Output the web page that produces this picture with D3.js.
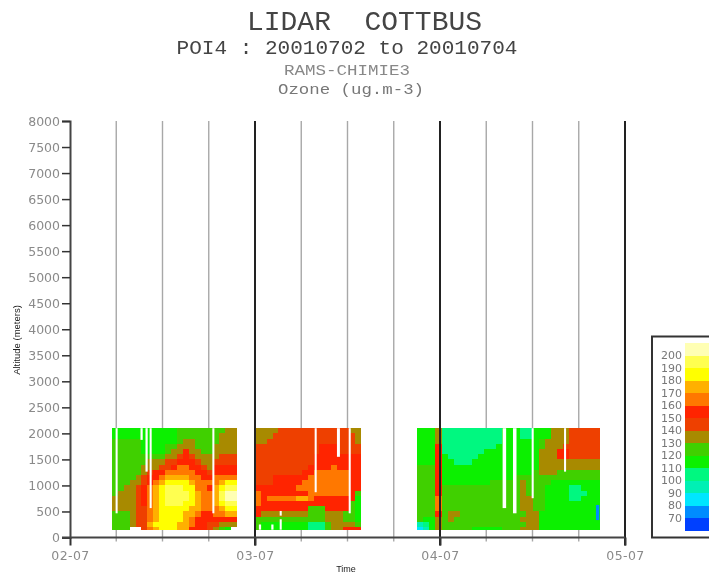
<!DOCTYPE html>
<html><head><meta charset="utf-8">
<script src="https://cdn.jsdelivr.net/npm/d3@7"></script>
<style>html,body{margin:0;padding:0;background:#fff;overflow:hidden}svg{display:block;filter:blur(0.6px)}</style>
</head><body><svg id="c" width="709" height="576"></svg>
<script>
const titleLines = ["LIDAR  COTTBUS", "POI4 : 20010702 to 20010704", "RAMS-CHIMIE3", "Ozone (ug.m-3)"];
const yTicks = d3.range(0, 8001, 500);
const dayTicks = [0, 1, 2, 3];
const dayLabels = ["02-07", "03-07", "04-07", "05-07"];
const quarterTicks = [0.25, 0.5, 0.75, 1.25, 1.5, 1.75, 2.25, 2.5, 2.75];
const legendTicks = [70, 80, 90, 100, 110, 120, 130, 140, 150, 160, 170, 180, 190, 200];
const levelColors = ["#0040ff", "#008cff", "#00e6ff", "#00f0b4", "#00f880", "#0cf000", "#40d000", "#a88a00", "#ee4000", "#ff2400", "#ff7800", "#ffb000", "#ffff00", "#ffff50", "#ffffb4"];
// letter codes a..o = ozone classes <70, 70-80, ... >200
const levelCodes = "abcdefghijklmno";
const levelValues = [65, 75, 85, 95, 105, 115, 125, 135, 145, 155, 165, 175, 185, 195, 205];
const altitudeEdges = [2100, 2000, 1900, 1800, 1700, 1600, 1500, 1400, 1300, 1200, 1100, 1000, 900, 800, 700, 600, 500, 400, 300, 200, 150];

const day1Span = [0.225, 0.903];
const day1Rows = [
"fffffffffffgggggggghh","fffffffffffggggggghhh","gggggffffffghhgggghhh","gggggffffgghhhggghhhh",
"gggggffffghhjhhgghhhh","ggggggggghhijihhhhiii","gggggghhhiijjjihhiiii","ggggghhhiijkkjjihjjjj",
"ggggghijjkkkkkjjijjjj","gggghijjkllllkkjjkkkk","ggghhijklmmmmlkkkklmm","gghhijklmnnnmmkkjlmnn",
"ghhhijklmnnnnmlkklnoo","hhhhijklmnnnnmlkklnoo","hhhhijklmnnnmmlkklmnn","hhhhiiklmmmmmllkkklmm",
"ggghiiklmmmmllkjjkkll","ggghiiklmmmmlkjjjjjjj","ggghiilmmmmllkjjiihhh","ggg..iklmmmlljjjihgf."];

const day2Span = [1.0, 1.570];
const day2Rows = [
"hhhhiiiiiiiiiiiihh","hhhiiiiiiiiiiiiiih","hhiiiiiiiiiiiiiiih","iiiiiiiiiiijjjiiii",
"iiiiiiiiiiijjjiiii","iiiiiiiiiijjjjjjjj","iiiiiiiiiijjjjjjjj","iiiiiiiiijjjjkjjjj",
"iiiiiiiijjkkkkkkjj","iiijjjjjjkkkkkkkjj","iiijjjjjkkkkkkkkjj","jjjjjjjkkkkkkkkkjj",
"kjjjjjjjjkkkkkkkjg","kjkkkkkllkjjjjjjjf","kjjjjjjjjjjjjjjjgf","jjjjjjjjjgggjjjjgf",
"jhhhhhhhhggghhhggf","gggggggggggghhhggf","gffffffffeeeghhhhg","gffffffffeeeghhjjj"];

const day3Span = [1.877, 2.861];
const day3Rows = [
"fffheeeeeeeeeefffeefffhhhiiiii","fffheeeeeeeeeefffeefffhhhiiiii","fffheeeeeeeeeeffffffghhhhiiiii","fffjeeeeeeeeefffffffghhhiiiiii",
"fffjeeeeeeefffffffffhhhjjiiiii","fffjfeeeeeffffffffffhhhjjiiiii","fffjffeeefffffffffffhhhhhhhhhh","gggjffffffffffffffffhhhhhhhhhh",
"gggjfffffffffffffffghhhggggggg","gggjffffffffffffgggggggggggggg","gggjffffffffggggghggggffffffff","gggjggggggggggggghgggffffeefff",
"gggjggggggggggggghgggffffeeeff","gggkggggggggggggghhggffffeefff","gggkggggggggggggghhggfffffffff","gggkggggggggggggghhggfffffffff",
"gggjghhggggggggggghhffffffffff","gffhghggggggggggghhhffffffffff","defhgggggggggggggghhffffffffff","cdfhgggggfffffggghhhffffffffff"];

// small isolated cells
const extraCellT0 = [2.843];
const extraCellT1 = [2.861];
const extraCellTop = [625];
const extraCellBottom = [335];
const extraCellValue = [75];

// missing-data slits: time (days), lowest altitude, top altitude, width (days)
const gapTime = [0.252, 0.387, 0.414, 0.436, 0.775, 1.328, 1.451, 1.512, 1.139, 1.139, 1.027, 1.094, 2.348, 2.404, 2.501, 2.676];
const gapLow  = [465, 1875, 1265, 565, 465, 870, 1550, 465, 420, 150, 150, 150, 565, 465, 755, 1265];
const gapHigh = [2100, 2100, 2100, 2100, 2100, 2100, 2100, 2100, 510, 350, 250, 250, 2100, 2100, 2100, 2100];
const gapWidth = [0.011, 0.012, 0.012, 0.011, 0.011, 0.011, 0.016, 0.011, 0.011, 0.011, 0.012, 0.012, 0.019, 0.019, 0.011, 0.011];

const svg = d3.select("#c");
const x = d3.scaleLinear().domain([0, 3]).range([70, 625]);
const y = d3.scaleLinear().domain([0, 8000]).range([537.5, 121]);
const color = d3.scaleThreshold().domain(legendTicks).range(levelColors);
const valueOf = c => levelValues[levelCodes.indexOf(c)];
const numFont = "'DejaVu Sans'";

// titles
const titleStyle = [[364.5, 30, 28, "#444", 235], [347, 54, 21, "#444", 341], [347, 75, 15.5, "#888", 126], [351, 94, 15.5, "#777", 146]];
svg.selectAll(".t").data(titleLines).join("text").attr("class", "t")
  .attr("x", (d, i) => titleStyle[i][0]).attr("y", (d, i) => titleStyle[i][1])
  .attr("text-anchor", "middle").attr("font-family", "'Liberation Mono'")
  .attr("font-size", (d, i) => titleStyle[i][2]).attr("fill", (d, i) => titleStyle[i][3])
  .attr("textLength", (d, i) => titleStyle[i][4]).attr("lengthAdjust", "spacingAndGlyphs")
  .style("white-space", "pre").text(d => d);

// minor vertical lines
svg.append("g").selectAll("line").data(quarterTicks).join("line")
  .attr("x1", d => x(d)).attr("x2", d => x(d)).attr("y1", y(8000)).attr("y2", y(0) + 4)
  .attr("stroke", "#a8a8a8").attr("stroke-width", 1.4);

// heat cells
function drawDay(rows, span) {
  const n = rows[0].length;
  const cx = d3.scaleLinear().domain([0, n]).range(span);
  const g = svg.append("g").attr("shape-rendering", "crispEdges");
  rows.forEach((row, r) => {
    g.selectAll(null).data(row.split("").map((c, i) => ({c, i})).filter(d => d.c !== "."))
      .join("rect")
      .attr("x", d => x(cx(d.i))).attr("width", d => x(cx(d.i + 1)) - x(cx(d.i)) + 0.3)
      .attr("y", y(altitudeEdges[r])).attr("height", y(altitudeEdges[r + 1]) - y(altitudeEdges[r]) + 0.3)
      .attr("fill", d => color(valueOf(d.c)));
  });
}
drawDay(day1Rows, day1Span);
drawDay(day2Rows, day2Span);
drawDay(day3Rows, day3Span);

svg.append("g").selectAll("rect").data(extraCellT0).join("rect")
  .attr("x", d => x(d)).attr("width", (d, i) => x(extraCellT1[i]) - x(d))
  .attr("y", (d, i) => y(extraCellTop[i])).attr("height", (d, i) => y(extraCellBottom[i]) - y(extraCellTop[i]))
  .attr("fill", (d, i) => color(extraCellValue[i]));

svg.append("g").selectAll("rect").data(gapTime).join("rect")
  .attr("x", (d, i) => x(d - gapWidth[i] / 2)).attr("width", (d, i) => x(gapWidth[i]) - x(0))
  .attr("y", (d, i) => y(gapHigh[i])).attr("height", (d, i) => y(gapLow[i]) - y(gapHigh[i]))
  .attr("fill", "#fff");

// major vertical lines
svg.append("g").selectAll("line").data(dayTicks.slice(1)).join("line")
  .attr("x1", d => x(d)).attr("x2", d => x(d)).attr("y1", y(8000)).attr("y2", y(0) + 8)
  .attr("stroke", "#222").attr("stroke-width", 2);

// y axis
const yAxis = svg.append("g").attr("transform", "translate(70,0)")
  .call(d3.axisLeft(y).tickValues(yTicks).tickSize(8).tickPadding(2).tickFormat(d3.format("d")));
yAxis.selectAll("path").attr("stroke", "#444").attr("stroke-width", 2);
yAxis.selectAll(".tick line").attr("stroke", "#333").attr("stroke-width", 1.5);
yAxis.selectAll("text").attr("font-family", numFont).attr("font-size", 12.5).attr("fill", "#8a8a8a");

// x axis
const xAxis = svg.append("g").attr("transform", `translate(0,${y(0)})`)
  .call(d3.axisBottom(x).tickValues(dayTicks).tickSize(8).tickPadding(6).tickFormat((d, i) => dayLabels[i]));
xAxis.select("path").remove();
svg.append("line").attr("x1", 62).attr("x2", x(3)).attr("y1", y(0)).attr("y2", y(0)).attr("stroke", "#444").attr("stroke-width", 2);
xAxis.selectAll(".tick line").attr("stroke", "#333").attr("stroke-width", 2);
xAxis.selectAll("text").attr("font-family", numFont).attr("font-size", 12.5).attr("fill", "#8a8a8a").attr("letter-spacing", 0.4);

svg.append("text").attr("transform", "translate(20,340) rotate(-90)").attr("text-anchor", "middle")
  .attr("font-family", "'Liberation Sans'").attr("font-size", 9.5).attr("fill", "#222").text("Altitude (meters)");
svg.append("text").attr("x", 346).attr("y", 572).attr("text-anchor", "middle")
  .attr("font-family", "'Liberation Sans'").attr("font-size", 9).attr("fill", "#222").text("Time");

// legend
const ly = d3.scaleLinear().domain([60, 210]).range([530.5, 343]);
svg.append("rect").attr("x", 652).attr("y", 336.5).attr("width", 90).attr("height", 201)
  .attr("fill", "#fff").attr("stroke", "#333").attr("stroke-width", 2);
svg.append("g").attr("shape-rendering", "crispEdges").selectAll("rect").data(levelValues).join("rect")
  .attr("x", 685).attr("width", 30).attr("y", d => ly(d + 5)).attr("height", d => ly(d - 5) - ly(d + 5) + 0.3)
  .attr("fill", d => color(d));
svg.append("g").selectAll("text").data(legendTicks).join("text")
  .attr("x", 682).attr("y", d => ly(d)).attr("dy", "0.36em").attr("text-anchor", "end")
  .attr("font-family", numFont).attr("font-size", 11).attr("fill", "#777").text(d => d);
</script></body></html>
